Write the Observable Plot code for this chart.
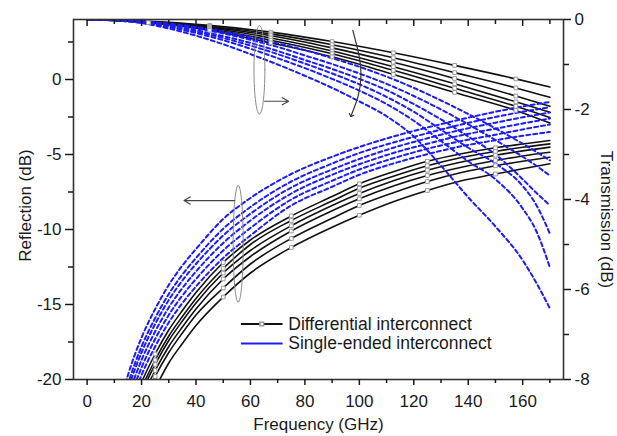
<!DOCTYPE html>
<html>
<head>
<meta charset="utf-8">
<script src="https://cdn.jsdelivr.net/npm/d3@7"></script>
<script src="https://cdn.jsdelivr.net/npm/@observablehq/plot@0.6"></script>
<style>
  html, body { margin: 0; padding: 0; background: #fff; }
  svg { display: block; }
</style>
</head>
<body>
<div id="chart"></div>
<script>
// ---------- DATA ----------
// Reflection (left axis, dB)
const freqRefl = [12, 15, 20, 25, 30, 35, 40, 50, 60, 75, 90, 100, 112.5, 125, 137.5, 150, 160, 170];
const reflDiff = [
  [-24.6, -22.7, -20.2, -18.3, -16.7, -15.4, -14.2, -12.2, -10.7, -9.1, -7.8, -6.95, -6.15, -5.45, -4.95, -4.55, -4.3, -4.07],
  [-25.1, -23.1, -20.6, -18.7, -17.1, -15.8, -14.6, -12.6, -11.0, -9.4, -8.1, -7.25, -6.45, -5.75, -5.2, -4.8, -4.52, -4.29],
  [-25.4, -23.5, -20.9, -19.0, -17.4, -16.1, -14.9, -12.9, -11.4, -9.75, -8.4, -7.6, -6.75, -6.05, -5.5, -5.05, -4.76, -4.51],
  [-25.8, -23.8, -21.3, -19.4, -17.8, -16.5, -15.3, -13.3, -11.8, -10.1, -8.75, -7.95, -7.1, -6.4, -5.85, -5.4, -5.1, -4.85],
  [-26.2, -24.3, -21.8, -19.8, -18.2, -16.9, -15.7, -13.9, -12.3, -10.6, -9.25, -8.4, -7.55, -6.8, -6.2, -5.75, -5.45, -5.18],
  [-26.9, -24.9, -22.4, -20.6, -18.9, -17.6, -16.4, -14.5, -12.9, -11.2, -9.85, -9.05, -8.15, -7.4, -6.75, -6.3, -5.95, -5.62]
];
const reflSingle = [
  [-21.6, -19.7, -17.2, -15.3, -13.7, -12.4, -11.3, -9.3, -7.9, -6.3, -5.15, -4.5, -3.8, -3.2, -2.65, -2.15, -1.8, -1.5],
  [-22.2, -20.3, -17.8, -15.9, -14.3, -13.0, -11.9, -9.95, -8.5, -6.8, -5.6, -4.9, -4.2, -3.58, -3.0, -2.5, -2.15, -1.85],
  [-22.7, -20.7, -18.2, -16.3, -14.7, -13.4, -12.3, -10.4, -8.95, -7.2, -6.0, -5.3, -4.55, -3.92, -3.35, -2.88, -2.52, -2.2],
  [-23.1, -21.2, -18.7, -16.8, -15.2, -13.9, -12.8, -10.9, -9.4, -7.6, -6.35, -5.65, -4.9, -4.28, -3.72, -3.28, -2.93, -2.6],
  [-23.6, -21.7, -19.2, -17.3, -15.7, -14.4, -13.3, -11.4, -9.9, -8.0, -6.75, -6.0, -5.25, -4.62, -4.1, -3.68, -3.33, -3.0],
  [-24.1, -22.2, -19.7, -17.8, -16.2, -14.9, -13.8, -11.9, -10.4, -8.4, -7.15, -6.35, -5.6, -4.98, -4.45, -4.05, -3.75, -3.5]
];
const markerFreqRefl = [25, 50, 75, 100, 125, 150];

// Transmission (right axis, dB)
const freqTransDiff = [0, 22.5, 45, 67.5, 90, 112.5, 135, 157.5, 170];
const transDiff = [
  [0, -0.04, -0.13, -0.28, -0.49, -0.74, -1.02, -1.32, -1.50],
  [0, -0.045, -0.15, -0.32, -0.56, -0.85, -1.18, -1.52, -1.73],
  [0, -0.05, -0.17, -0.36, -0.63, -0.95, -1.31, -1.70, -1.93],
  [0, -0.06, -0.19, -0.41, -0.70, -1.05, -1.43, -1.83, -2.06],
  [0, -0.065, -0.21, -0.46, -0.76, -1.13, -1.53, -1.93, -2.18],
  [0, -0.07, -0.24, -0.52, -0.83, -1.22, -1.62, -2.02, -2.30]
];
const markerFreqTrans = [22.5, 45, 67.5, 90, 112.5, 135, 157.5];
const freqTransSingle = [0, 10, 20, 30, 40, 50, 60, 70, 80, 90, 100, 110, 120, 130, 140, 150, 160, 165, 170];
const transSingle = [
  [0, -0.01, -0.04, -0.09, -0.17, -0.27, -0.39, -0.53, -0.68, -0.86, -1.05, -1.27, -1.52, -1.8, -2.1, -2.42, -2.76, -2.94, -3.13],
  [0, -0.01, -0.045, -0.11, -0.2, -0.31, -0.45, -0.61, -0.8, -0.99, -1.2, -1.43, -1.7, -2.0, -2.33, -2.68, -3.05, -3.25, -3.47],
  [0, -0.015, -0.05, -0.13, -0.24, -0.37, -0.52, -0.7, -0.9, -1.1, -1.32, -1.57, -1.88, -2.22, -2.6, -3.0, -3.55, -3.85, -4.13],
  [0, -0.015, -0.06, -0.15, -0.27, -0.41, -0.58, -0.77, -0.98, -1.2, -1.44, -1.72, -2.05, -2.45, -2.85, -3.2, -3.7, -4.12, -4.76],
  [0, -0.02, -0.07, -0.17, -0.3, -0.46, -0.65, -0.86, -1.08, -1.32, -1.58, -1.88, -2.25, -2.7, -3.15, -3.55, -4.2, -4.7, -5.51],
  [0, -0.02, -0.08, -0.2, -0.36, -0.55, -0.77, -1.0, -1.25, -1.52, -1.82, -2.15, -2.6, -3.25, -3.95, -4.6, -5.35, -5.85, -6.42]
];

// Axis ticks and texts
const xTicks = [0, 20, 40, 60, 80, 100, 120, 140, 160];
const xMinorTicks = [10, 30, 50, 70, 90, 110, 130, 150, 170];
const reflTicks = [-20, -15, -10, -5, 0];
const reflMinorTicks = [-17.5, -12.5, -7.5, -2.5, 2.5];
const transTicks = [0, -2, -4, -6, -8];
const transMinorTicks = [-1, -3, -5, -7];
const seriesNames = ["Differential interconnect", "Single-ended interconnect"];
const xLabel = "Frequency (GHz)";
const leftLabel = "Reflection (dB)";
const rightLabel = "Transmission (dB)";

// ---------- LAYOUT / STYLE ----------
const reflDomain = [-20, 4];
const transDomain = [-8, 0];
// map transmission dB onto the reflection scale (both axes share the frame)
const k = (reflDomain[1] - reflDomain[0]) / (transDomain[1] - transDomain[0]);
const t2r = t => reflDomain[1] + k * (t - transDomain[1]);
const r2t = r => transDomain[1] + (r - reflDomain[1]) / k;

const BLACK = "#111";
const BLUE = "#1c1cf5";
const DASH = "4,3";
const GREY = "#8a8a8a";

// annotations (data units)
const loops = [
  {cx: 63.3, cy: 0.65, rx: 2.0, ry: 2.95},
  {cx: 55.5, cy: -10.95, rx: 1.85, ry: 3.9}
];
const arrows = [
  {x1: 65.2, y1: -1.45, x2: 74.0, y2: -1.45},
  {x1: 54.2, y1: -8.07, x2: 35.6, y2: -8.07}
];
const curvedArrow = [[97.6, 3.27], [99.9, 1.6], [100.6, 0.27], [99.6, -1.07], [97.0, -2.4]];
const legendPos = {xLine: [56.5, 71.8], xText: 73.9, y: [-16.3, -17.6]};

// ---------- TABLES ----------
function toRows(freqs, series, prefix, mapY) {
  const rows = [];
  series.forEach((vals, i) => vals.forEach((v, j) => rows.push({f: freqs[j], v: mapY(v), curve: prefix + i})));
  return rows;
}
const id = v => v;
const rowsReflDiff = toRows(freqRefl, reflDiff, "rd", id);
const rowsReflSingle = toRows(freqRefl, reflSingle, "rs", id);
const rowsTransDiff = toRows(freqTransDiff, transDiff, "td", t2r);
const rowsTransSingle = toRows(freqTransSingle, transSingle, "ts", t2r);
const markersRefl = rowsReflDiff.filter(d => markerFreqRefl.includes(d.f) && d.v >= reflDomain[0]);
const markersTrans = rowsTransDiff.filter(d => markerFreqTrans.includes(d.f));

const loopPts = [];
loops.forEach((l, i) => d3.range(0, 361, 6).forEach(a => {
  const r = a * Math.PI / 180;
  loopPts.push({x: l.cx + l.rx * Math.cos(r), y: l.cy + l.ry * Math.sin(r), id: i});
}));

const legendRows = [
  {name: seriesNames[0], y: legendPos.y[0], stroke: BLACK, dash: null},
  {name: seriesNames[1], y: legendPos.y[1], stroke: BLUE, dash: DASH}
];

const chart = Plot.plot({
  width: 617,
  height: 436,
  marginLeft: 73,
  marginRight: 54,
  marginTop: 19,
  marginBottom: 57,
  style: {fontFamily: "'Liberation Sans', Arial, Helvetica, sans-serif", fontSize: "17px", color: "#1a1a1a", background: "#fff", overflow: "visible"},
  x: {domain: [-5, 175]},
  y: {domain: reflDomain},
  marks: [
    // curves
    Plot.line(rowsTransDiff, {x: "f", y: "v", z: "curve", stroke: BLACK, strokeWidth: 1.6, curve: "monotone-x", clip: true}),
    Plot.line(rowsReflDiff, {x: "f", y: "v", z: "curve", stroke: BLACK, strokeWidth: 1.6, curve: "monotone-x", clip: true}),
    Plot.line(rowsTransSingle, {x: "f", y: "v", z: "curve", stroke: BLUE, strokeWidth: 2, strokeDasharray: DASH, curve: "monotone-x", clip: true}),
    Plot.line(rowsReflSingle, {x: "f", y: "v", z: "curve", stroke: BLUE, strokeWidth: 2, strokeDasharray: DASH, curve: "monotone-x", clip: true}),
    Plot.dot(markersTrans, {x: "f", y: "v", symbol: "square", r: 2.1, fill: "#fff", stroke: "#9a9a9a", strokeWidth: 1}),
    Plot.dot(markersRefl, {x: "f", y: "v", symbol: "square", r: 2.1, fill: "#fff", stroke: "#9a9a9a", strokeWidth: 1}),

    // annotations
    Plot.line(loopPts, {x: "x", y: "y", z: "id", stroke: GREY, strokeWidth: 1, curve: "linear"}),
    Plot.arrow(arrows, {x1: "x1", y1: "y1", x2: "x2", y2: "y2", stroke: "#444", strokeWidth: 1.2, headLength: 9}),
    Plot.line(curvedArrow, {x: d => d[0], y: d => d[1], stroke: "#333", strokeWidth: 1.2, curve: "natural", markerEnd: "arrow"}),

    // legend
    Plot.link(legendRows, {x1: legendPos.xLine[0], x2: legendPos.xLine[1], y1: "y", y2: "y", stroke: "stroke", strokeWidth: 2, strokeDasharray: d => d.dash}),
    Plot.dot(legendRows.slice(0, 1), {x: (legendPos.xLine[0] + legendPos.xLine[1]) / 2, y: "y", symbol: "square", r: 2.1, fill: "#fff", stroke: "#9a9a9a"}),
    Plot.text(legendRows, {x: legendPos.xText, y: "y", text: "name", textAnchor: "start", fontSize: 17.5, fill: "#1a1a1a"}),

    // frame & axes
    Plot.frame({stroke: "#333", strokeWidth: 1.6}),
    Plot.axisX({anchor: "bottom", ticks: xTicks, tickSize: 6, tickPadding: 9, tickFormat: d => String(d), label: null, strokeWidth: 1.5}),
    Plot.axisX({anchor: "bottom", ticks: xMinorTicks.filter(d => d < 175), tickSize: 4, tickFormat: () => "", label: null, strokeWidth: 1.5}),
    Plot.axisX({anchor: "top", ticks: xTicks, tickSize: 6, dy: 6, tickFormat: () => "", label: null, strokeWidth: 1.5}),
    Plot.axisX({anchor: "top", ticks: xMinorTicks, tickSize: 4, dy: 4, tickFormat: () => "", label: null, strokeWidth: 1.5}),
    Plot.axisY({anchor: "left", ticks: reflTicks, tickSize: 8, tickPadding: 4, tickFormat: d => String(d), label: null, strokeWidth: 1.5}),
    Plot.axisY({anchor: "left", ticks: reflMinorTicks, tickSize: 5, tickFormat: () => "", label: null, strokeWidth: 1.5}),
    Plot.axisY({anchor: "right", ticks: transTicks.map(t2r), tickSize: 7, tickPadding: 4, tickFormat: v => String(Math.round(r2t(v))), label: null, strokeWidth: 1.5}),
    Plot.axisY({anchor: "right", ticks: transMinorTicks.map(t2r), tickSize: 5, tickFormat: () => "", label: null, strokeWidth: 1.5}),

    // axis titles
    Plot.text([xLabel], {frameAnchor: "bottom", dy: 45, textAnchor: "middle", lineAnchor: "middle", fontSize: 17}),
    Plot.text([leftLabel], {frameAnchor: "left", dx: -48, dy: 6, textAnchor: "middle", lineAnchor: "middle", rotate: -90, fontSize: 17}),
    Plot.text([rightLabel], {frameAnchor: "right", dx: 43, dy: 20, textAnchor: "middle", lineAnchor: "middle", rotate: 90, fontSize: 17})
  ]
});
document.getElementById("chart").appendChild(chart);
</script>
</body>
</html>
